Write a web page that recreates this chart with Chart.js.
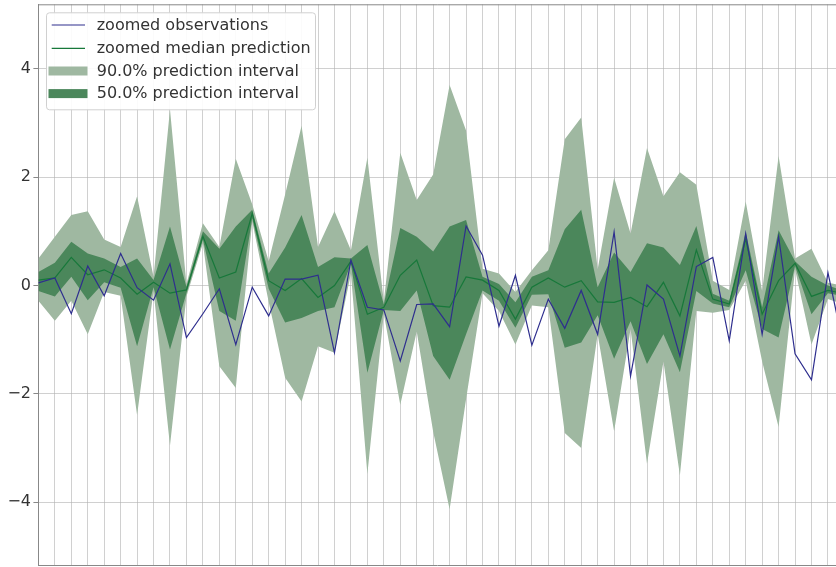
<!DOCTYPE html>
<html><head><meta charset="utf-8">
<script src="https://cdn.jsdelivr.net/npm/chart.js@4.4.1/dist/chart.umd.min.js"></script>
<style>html,body{margin:0;padding:0;background:#fff;overflow:hidden}#wrap{width:836px;height:567px;position:relative}</style>
</head><body><div id="wrap"><canvas id="c" width="836" height="567"></canvas></div>
<script>
const steps = [0,1,2,3,4,5,6,7,8,9,10,11,12,13,14,15,16,17,18,19,20,21,22,23,24,25,26,27,28,29,30,31,32,33,34,35,36,37,38,39,40,41,42,43,44,45,46,47,48,49];
const observations = [0.05,0.14,-0.52,0.36,-0.19,0.59,-0.04,-0.27,0.4,-0.96,-0.52,-0.06,-1.09,-0.03,-0.56,0.12,0.12,0.19,-1.24,0.47,-0.4,-0.45,-1.39,-0.35,-0.34,-0.76,1.1,0.56,-0.75,0.19,-1.1,-0.25,-0.79,-0.09,-0.9,0.99,-1.67,0.01,-0.25,-1.3,0.35,0.52,-1.02,0.96,-0.9,0.9,-1.26,-1.74,0.24,-1.2];
const median = [0.1,0.14,0.52,0.2,0.29,0.14,-0.16,0.06,-0.14,-0.08,0.91,0.14,0.25,1.33,0.09,-0.09,0.13,-0.22,0.0,0.45,-0.53,-0.4,0.19,0.47,-0.37,-0.4,0.16,0.1,-0.09,-0.62,-0.03,0.14,-0.03,0.09,-0.3,-0.31,-0.22,-0.39,0.06,-0.56,0.66,-0.25,-0.34,0.86,-0.53,0.09,0.41,-0.2,-0.09,-0.15];
const upper90 = [0.5,0.9,1.3,1.37,0.85,0.71,1.65,0.16,3.25,0.03,1.15,0.71,2.34,1.5,0.45,1.68,2.95,0.71,1.37,0.65,2.36,-0.3,2.45,1.58,2.05,3.7,2.86,0.31,0.22,-0.12,0.28,0.65,2.7,3.1,0.3,1.99,0.96,2.54,1.65,2.09,1.86,0.09,-0.08,1.55,-0.1,2.39,0.5,0.68,0.05,0.0];
const lower90 = [-0.28,-0.65,-0.28,-0.9,-0.12,-0.19,-2.39,-0.1,-2.95,-0.2,0.78,-1.49,-1.89,1.18,-0.3,-1.7,-2.14,-1.12,-1.24,0.22,-3.48,-0.52,-2.2,-0.85,-2.7,-4.13,-2.1,-0.14,-0.47,-1.09,-0.37,-0.4,-2.72,-3.0,-0.9,-2.69,-0.8,-3.29,-1.4,-3.5,-0.47,-0.5,-0.45,0.09,-1.4,-2.61,0.3,-1.09,-0.25,-0.35];
const upper50 = [0.25,0.42,0.81,0.59,0.5,0.34,0.5,0.1,1.09,-0.02,1.0,0.68,1.09,1.4,0.22,0.7,1.3,0.34,0.52,0.5,0.75,-0.35,1.06,0.9,0.63,1.09,1.21,0.16,0.03,-0.31,0.16,0.28,1.04,1.4,-0.03,0.61,0.25,0.78,0.7,0.38,1.1,-0.15,-0.28,0.99,-0.4,1.02,0.45,0.16,0.0,-0.1];
const lower50 = [-0.1,-0.2,0.16,-0.27,0.06,-0.04,-1.12,-0.03,-1.18,-0.14,0.85,-0.47,-0.65,1.24,-0.06,-0.68,-0.6,-0.47,-0.4,0.4,-1.61,-0.45,-0.47,-0.09,-1.3,-1.74,-0.9,-0.09,-0.28,-0.78,-0.17,-0.16,-1.15,-1.05,-0.55,-1.35,-0.66,-1.45,-0.9,-1.6,-0.1,-0.33,-0.4,0.28,-0.8,-0.96,0.36,-0.53,-0.14,-0.2];
const yTicks = [-4,-2,0,2,4];
const legendLabels = ['zoomed observations','zoomed median prediction','90.0% prediction interval','50.0% prediction interval'];

const C_OBS = '#2e2e8e', C_MED = '#17783a', C_90 = '#9fb8a1', C_50 = '#4b875b';
const GRID = 'rgba(176,176,176,0.6)';
const pts = arr => arr.map((v,i)=>({x:steps[i], y:v}));

const framePlugin = {
  id:'frameLegend',
  afterDraw(chart){
    const ctx = chart.ctx, a = chart.chartArea;
    ctx.save();
    ctx.strokeStyle = '#888'; ctx.lineWidth = 1;
    ctx.beginPath(); ctx.moveTo(a.left, a.top+0.5); ctx.lineTo(a.right, a.top+0.5); ctx.stroke();
    const bx=46, by=12.3, bw=269, bh=97;
    ctx.beginPath(); ctx.roundRect(bx+0.5, by+0.5, bw, bh, 3);
    ctx.fillStyle = 'rgba(255,255,255,0.92)'; ctx.fill();
    ctx.strokeStyle = '#d0d0d0'; ctx.stroke();
    const rows = [25, 48.3, 71, 93.6];
    ctx.lineWidth = 1.2;
    ctx.strokeStyle = C_OBS; ctx.beginPath(); ctx.moveTo(51.7, rows[0]); ctx.lineTo(85, rows[0]); ctx.stroke();
    ctx.strokeStyle = C_MED; ctx.beginPath(); ctx.moveTo(51.7, rows[1]); ctx.lineTo(85, rows[1]); ctx.stroke();
    ctx.fillStyle = C_90; ctx.fillRect(48.5, rows[2]-4.5, 39, 9);
    ctx.fillStyle = C_50; ctx.fillRect(48.5, rows[3]-4.5, 39, 9);
    ctx.fillStyle = '#333';
    ctx.font = '16px "DejaVu Sans"';
    ctx.textBaseline = 'middle'; ctx.textAlign = 'left';
    legendLabels.forEach((t,i)=>ctx.fillText(t, 96.7, rows[i]+0.5));
    ctx.restore();
  }
};

new Chart(document.getElementById('c'), {
  type:'line',
  data:{
    datasets:[
      {label:legendLabels[0], data:pts(observations), borderColor:C_OBS, borderWidth:1.2, pointRadius:0, fill:false, tension:0, order:0},
      {label:legendLabels[1], data:pts(median), borderColor:C_MED, borderWidth:1.2, pointRadius:0, fill:false, tension:0, order:1},
      {label:legendLabels[3], data:pts(upper50), borderWidth:0, borderColor:'rgba(0,0,0,0)', backgroundColor:C_50, pointRadius:0, fill:3, tension:0, order:2},
      {label:'lower50', data:pts(lower50), borderWidth:0, borderColor:'rgba(0,0,0,0)', pointRadius:0, fill:false, tension:0, order:3},
      {label:legendLabels[2], data:pts(upper90), borderWidth:0, borderColor:'rgba(0,0,0,0)', backgroundColor:C_90, pointRadius:0, fill:5, tension:0, order:4},
      {label:'lower90', data:pts(lower90), borderWidth:0, borderColor:'rgba(0,0,0,0)', pointRadius:0, fill:false, tension:0, order:5}
    ]
  },
  options:{
    responsive:false, animation:false, devicePixelRatio:1,
    layout:{padding:{top:4.3, left:0, right:0, bottom:0}},
    plugins:{legend:{display:false}, tooltip:{enabled:false}},
    scales:{
      x:{type:'linear', min:0, max:48.49, z:1,
         ticks:{display:false, stepSize:1, includeBounds:false},
         grid:{color:GRID, drawTicks:false, lineWidth:1},
         border:{display:true, color:'#888', width:1},
         afterFit:s=>{s.height=1.3; s.paddingLeft=0; s.paddingRight=0;}},
      y:{min:-5.17, max:5.19, z:1,
         afterBuildTicks:s=>{s.ticks = yTicks.map(v=>({value:v}));},
         ticks:{font:{family:'DejaVu Sans', size:16}, color:'#333', padding:2.4,
                callback:v=>String(v).replace('-','\u2212')},
         grid:{color:GRID, tickColor:'#888', tickLength:5, lineWidth:1},
         border:{display:true, color:'#888', width:1},
         afterFit:s=>{s.width=38.4; s.paddingTop=0; s.paddingBottom=0;}}
    }
  },
  plugins:[framePlugin]
});
</script></body></html>
